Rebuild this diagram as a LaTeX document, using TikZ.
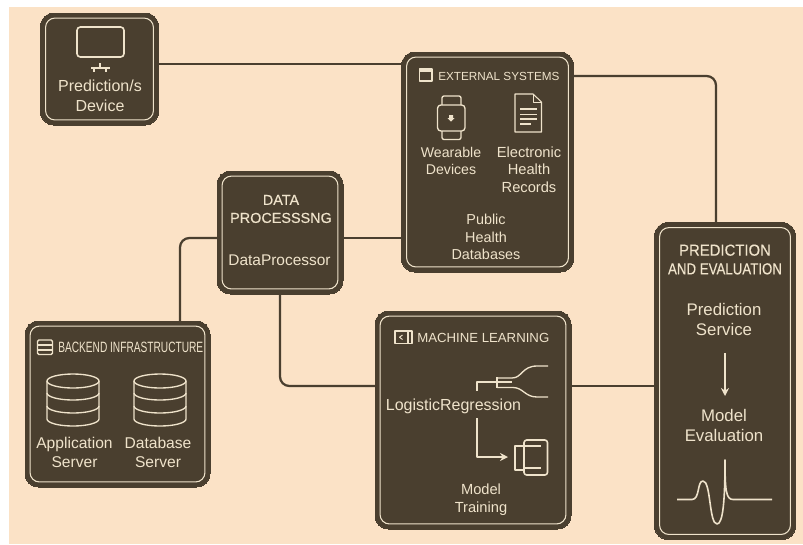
\documentclass[tikz,border=0pt]{standalone}
\usepackage{fontspec}
\setmainfont{Liberation Sans}
\newfontfamily\medfont[FakeBold=0.3]{Liberation Sans}
\usetikzlibrary{arrows.meta}
\definecolor{paper}{HTML}{FBE2C6}
\definecolor{dark}{HTML}{4A3F2F}
\definecolor{cream}{HTML}{EFE3CB}
\tikzset{
  panel/.style={draw=dark,fill=dark,line width=0pt,rounded corners=10pt,inner sep=0pt,outer sep=0pt},
  panelin/.style={draw=cream,line width=.8pt,rounded corners=7pt,inner sep=0pt,outer sep=0pt},
  wire/.style={draw=dark,line width=1.7pt,rounded corners=7pt},
  icon/.style={draw=cream,line width=1pt,line join=round},
  txt/.style={text=cream,inner sep=0pt,align=center},
  fa/.style={txt,font=\fontsize{12}{14.5}\selectfont},
  fb/.style={txt,font=\fontsize{11}{13.3}\selectfont},
  fc/.style={txt,font=\fontsize{12.6}{15}\selectfont},
  ft/.style={txt,font=\medfont\fontsize{10.8}{13.5}\selectfont},
  fp/.style={txt,font=\medfont\fontsize{12}{14}\selectfont},
}
\newcommand{\panelbox}[5]{%
  \node[panel,minimum width=#4*.75pt,minimum height=#5*.75pt] (#1) at (#2,#3) {};
  \node[panelin,minimum width=#4*.75pt-7.6pt,minimum height=#5*.75pt-7.6pt] (#1in) at (#2,#3) {};
}
\newcommand{\dbicon}[1]{%
  \begin{scope}[shift={(#1,0)}]
    \draw[icon] (-26,381) -- (-26,419) arc[start angle=180,end angle=0,x radius=26,y radius=7] -- (26,381);
    \draw[icon] (0,381) ellipse[x radius=26,y radius=7];
    \draw[icon] (-26,393) arc[start angle=180,end angle=0,x radius=26,y radius=7];
    \draw[icon] (-26,406) arc[start angle=180,end angle=0,x radius=26,y radius=7];
  \end{scope}}
\begin{document}
\begin{tikzpicture}[x=.75pt,y=-.75pt]
\useasboundingbox (0,0) rectangle (803,544);
\fill[paper] (9,7) rectangle (803,544);

% panels
\panelbox{device}{99.5}{69}{118}{112}
\panelbox{data}{280}{232.5}{126}{123}
\panelbox{ext}{487.5}{162}{172}{220}
\panelbox{pred}{725}{381}{141}{317}
\panelbox{back}{117.5}{404}{185}{166}
\panelbox{ml}{473}{420}{196}{218}

% connectors
\draw[wire] (device.east |- 0,64) -- (ext.west |- 0,64);
\draw[wire] (ext.east |- 0,76) -- (716,76) -- (716,222);
\draw[wire] (data.east |- 0,238) -- (ext.west |- 0,238);
\draw[wire] (data.west |- 0,238) -- (180,238) -- (180,321);
\draw[wire] (280,294) -- (280,386) -- (ml.west |- 0,386);
\draw[wire] (ml.east |- 0,386) -- (pred.west |- 0,386);

% device
\draw[icon,line width=1.2pt,rounded corners=2.5pt] (77,27) rectangle (124,57);
\draw[icon] (100,63) -- (100,68) (91,68) -- (110,68) (94,68) -- (94,72) (106,68) -- (106,72);
\node[fa] (devicet) at (100,96) {Prediction/s\\[.9pt]Device};

% data
\node[ft] (datat) at (281,209) {DATA\\PROCESSSNG};
\node[fa,font=\fontsize{11.6}{14}\selectfont] (datap) at (279.5,260) {DataProcessor};

% external
\draw[icon] (419.5,69) rectangle (432,81);
\fill[cream] (419.5,68.5) rectangle (432,71.5);
\node[txt,font=\fontsize{8.8}{10}\selectfont,anchor=west] (extt) at (438,76) {EXTERNAL SYSTEMS};
\draw[icon,rounded corners=2.5pt] (437.5,105) rectangle (465,131);
\draw[icon,rounded corners=1.5pt] (442,105) -- (442,96) -- (461,96) -- (461,105);
\draw[icon,rounded corners=1.5pt] (442,131) -- (442,139.5) -- (461,139.5) -- (461,131);
\fill[cream] (449,115) rectangle (453,118) (447.5,118) -- (454.5,118) -- (451,121.5) -- cycle;
\draw[icon,line width=.8pt] (515,94) -- (533,94) -- (541.5,102) -- (541.5,132) -- (515,132) -- cycle;
\draw[icon,line width=.7pt] (533,94) -- (533,102) -- (541.5,102);
\draw[icon,line width=.8pt] (520,109) -- (537,109) (520,114.5) -- (537,114.5) (520,119) -- (537,119) (520,124) -- (531,124);
\node[fb,font=\fontsize{10.6}{13}\selectfont] (wear) at (451,161) {Wearable\\Devices};
\node[fb] (ehr) at (529,169.5) {Electronic\\Health\\Records};
\node[fb,font=\fontsize{10.8}{13.3}\selectfont] (pub) at (486,237) {Public\\Health\\Databases};

% backend
\draw[icon,rounded corners=1pt] (37.5,340) rectangle (52.5,354.5);
\draw[icon] (37.5,345) -- (52.5,345) (37.5,350) -- (52.5,350);
\node[txt,anchor=west] (backt) at (58,347) {\scalebox{.68}[1]{\fontsize{11.2}{12}\selectfont BACKEND INFRASTRUCTURE}};
\dbicon{73}
\dbicon{160}
\node[fa,font=\fontsize{11.7}{14.2}\selectfont] (app) at (74.5,452.5) {Application\\Server};
\node[fa,font=\fontsize{11.7}{14.2}\selectfont] (dbs) at (158,452.5) {Database\\Server};

% machine learning
\draw[icon,line width=.9pt] (395,331) rectangle (412,343.5) (408,331) -- (408,343.5);
\draw[icon,line width=.7pt] (402.5,335) -- (399.5,337.2) -- (402.5,339.5);
\node[txt,font=\fontsize{9.9}{11}\selectfont,anchor=west] (mlt) at (417,337.5) {MACHINE LEARNING};
\draw[icon] (477,391) -- (477,382) -- (512,382);
\draw[icon] (497,377) -- (497,388);
\draw[icon] (497,378) -- (512,378) .. controls (522,378) and (522,366) .. (537,366) -- (548,366);
\draw[icon] (497,387.5) -- (513,387.5) .. controls (523,387.5) and (525,397) .. (537,397) -- (548,397);
\node[fa] (lr) at (453.5,406.5) {LogisticRegression};
\draw[icon,-{Stealth[length=6pt,width=6pt]}] (477,418) -- (477,457) -- (508,457);
\draw[icon,line width=1.2pt] (515,446) rectangle (524,470);
\draw[icon,line width=1.2pt,rounded corners=2pt] (524,446) -- (524,440) -- (547.5,440) -- (547.5,475) -- (524,475) -- (524,470);
\draw[icon] (524,446) -- (541,446) (524,468) -- (541,468);
\node[fb] (train) at (481,499.5) {Model\\Training};

% prediction
\node[fp] (predt) at (725,259.5) {\scalebox{.93}[1]{PREDICTION}\\\scalebox{.83}[1]{AND EVALUATION}};
\node[fc] (svc) at (724,319) {Prediction\\Service};
\node[fc] (eval) at (724,425) {Model\\Evaluation};
\draw[icon,-{Stealth[length=6pt,width=6pt]}] (725,353) -- (725,396);
\draw[icon,line width=1.2pt] (677,499.5) -- (692,499.5) .. controls (700,499.5) and (697,481) .. (703,481)
  .. controls (711,481) and (709,524) .. (717,524) .. controls (723,524) and (725,500) .. (725,460)
  .. controls (725,490) and (726,499.5) .. (733,499.5) -- (772,499.5);
\end{tikzpicture}
\end{document}
